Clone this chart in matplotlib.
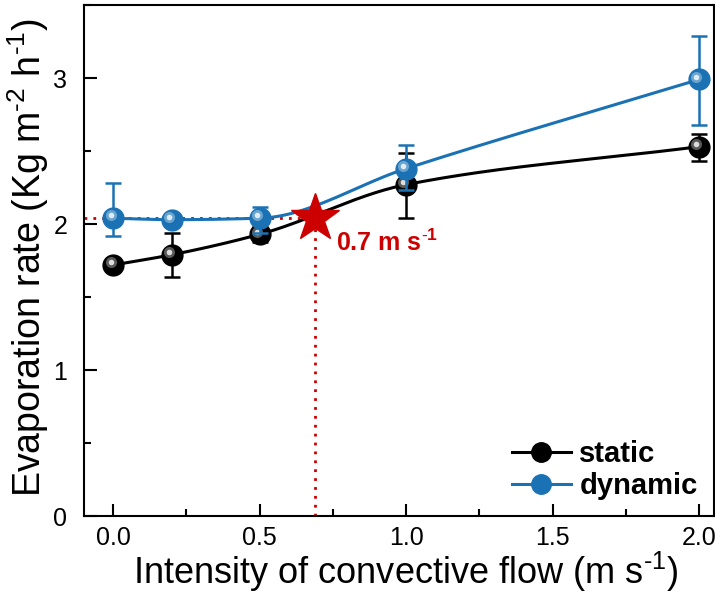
import numpy as np
import matplotlib
matplotlib.use("Agg")
import matplotlib.pyplot as plt
from matplotlib.transforms import offset_copy
from matplotlib.ticker import MultipleLocator, FormatStrFormatter
from matplotlib.lines import Line2D

plt.rcParams['font.family'] = ['Liberation Sans', 'DejaVu Sans']
plt.rcParams['mathtext.fontset'] = 'custom'
plt.rcParams['mathtext.rm'] = 'Liberation Sans'
plt.rcParams['mathtext.it'] = 'Liberation Sans:italic'
plt.rcParams['mathtext.bf'] = 'Liberation Sans:bold'

flow = [0.0, 0.2, 0.5, 1.0, 2.0]
static = [1.72, 1.79, 1.93, 2.27, 2.53]
static_err_lo = [0.03, 0.15, 0.05, 0.23, 0.10]
static_err_hi = [0.03, 0.15, 0.05, 0.22, 0.09]
dynamic = [2.04, 2.03, 2.04, 2.38, 2.99]
dynamic_err_lo = [0.12, 0.03, 0.10, 0.15, 0.31]
dynamic_err_hi = [0.24, 0.03, 0.08, 0.16, 0.30]
critical_flow = 0.69
critical_rate = 2.04
critical_label = r"0.7 m s$^{\mathbf{\text{-}1}}$"

BLACK = '#000000'
BLUE = '#1a72b5'
RED = '#cc0000'


def pchip(x, y, n=200):
    x = np.asarray(x, float); y = np.asarray(y, float)
    h = np.diff(x); d = np.diff(y) / h
    m = np.zeros_like(y)
    for k in range(1, len(x) - 1):
        if d[k-1] * d[k] <= 0:
            m[k] = 0
        else:
            w1 = 2*h[k] + h[k-1]; w2 = h[k] + 2*h[k-1]
            m[k] = (w1 + w2) / (w1/d[k-1] + w2/d[k])
    m[0] = d[0]; m[-1] = d[-1]
    xs = np.linspace(x[0], x[-1], n)
    idx = np.clip(np.searchsorted(x, xs) - 1, 0, len(x) - 2)
    t = (xs - x[idx]) / h[idx]
    h00 = 2*t**3 - 3*t**2 + 1; h10 = t**3 - 2*t**2 + t
    h01 = -2*t**3 + 3*t**2; h11 = t**3 - t**2
    ys = h00*y[idx] + h10*h[idx]*m[idx] + h01*y[idx+1] + h11*h[idx]*m[idx+1]
    return xs, ys


fig = plt.figure(figsize=(7.15, 5.96), dpi=100)
ax = fig.add_axes([0.1175, 0.134, 0.8805, 0.8576])

ax.plot([-0.1, critical_flow], [critical_rate, critical_rate], ls=(0, (1, 2.2)), color=RED, lw=2, zorder=1)
ax.plot([critical_flow, critical_flow], [0, critical_rate], ls=(0, (1, 2.2)), color=RED, lw=2, zorder=1)


def draw_series(y, lo, hi, color, z):
    xs, ys = pchip(flow, y)
    ax.plot(xs, ys, color=color, lw=2.2, zorder=z)
    ax.errorbar(flow, y, yerr=[lo, hi], fmt='none', ecolor=color, elinewidth=1.8,
                capsize=6, capthick=1.8, zorder=z)
    ax.plot(flow, y, 'o', ms=15, color=color, mec=color, zorder=z + 0.1)
    hl = offset_copy(ax.transData, fig=fig, x=-2.0, y=2.0, units='points')
    ax.plot(flow, y, 'o', ms=8, color='white', alpha=0.35, mec='none', transform=hl, zorder=z + 0.2)
    ax.plot(flow, y, 'o', ms=4, color='white', alpha=0.8, mec='none', transform=hl, zorder=z + 0.3)


draw_series(static, static_err_lo, static_err_hi, BLACK, 3)
draw_series(dynamic, dynamic_err_lo, dynamic_err_hi, BLUE, 4)

ax.plot([critical_flow], [critical_rate], marker='*', ms=36, color=RED, mec=RED, zorder=6)
ax.text(critical_flow + 0.07, critical_rate - 0.17, critical_label, color=RED,
        fontsize=18, fontweight='bold', va='center', ha='left', zorder=6)

ax.set_xlim(-0.1, 2.05)
ax.set_ylim(0, 3.5)
ax.xaxis.set_major_locator(MultipleLocator(0.5))
ax.xaxis.set_minor_locator(MultipleLocator(0.25))
ax.yaxis.set_major_locator(MultipleLocator(1))
ax.yaxis.set_minor_locator(MultipleLocator(0.5))
ax.xaxis.set_major_formatter(FormatStrFormatter('%.1f'))
ax.tick_params(which='both', direction='in', top=False, right=False, width=1.5)
ax.tick_params(which='major', length=9, labelsize=18)
ax.tick_params(axis='x', which='major', pad=7)
ax.tick_params(axis='y', which='major', pad=12)
ax.tick_params(which='minor', length=5)
for s in ax.spines.values():
    s.set_linewidth(1.5)

ax.set_xlabel(r'Intensity of convective flow (m s$^{\text{-}1}$)', fontsize=26, va='center')
ax.set_ylabel(r'Evaporation rate (Kg m$^{\text{-}2}$ h$^{\text{-}1}$)', fontsize=27, va='center')
ax.xaxis.set_label_coords(0.511, -0.11)
ax.yaxis.set_label_coords(-0.088, 0.505)


def leg_handle(color):
    return Line2D([], [], color=color, lw=2.2, marker='o', ms=14, mec=color, mfc=color)


ax.legend([leg_handle(BLACK), leg_handle(BLUE)], ['static', 'dynamic'], loc='lower right',
          frameon=False, prop={'weight': 'bold', 'size': 21}, handlelength=2.0,
          handletextpad=0.3, labelspacing=0.15, borderaxespad=0.15)

fig.savefig('out.png', dpi=100)
